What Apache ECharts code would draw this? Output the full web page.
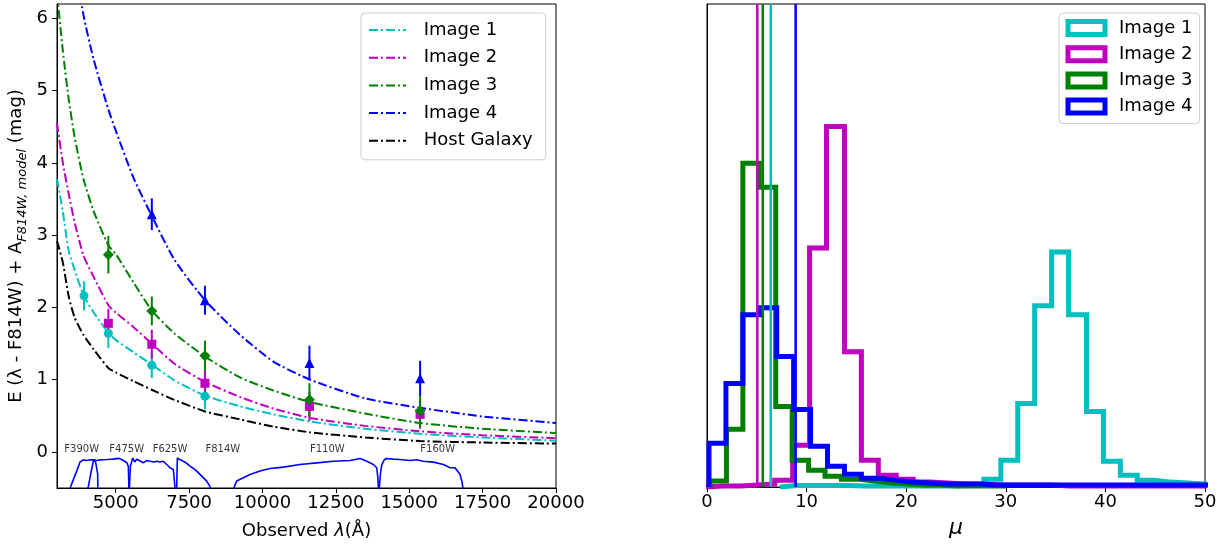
<!DOCTYPE html>
<html><head><meta charset="utf-8">
<script src="https://cdn.jsdelivr.net/npm/echarts@6/dist/echarts.min.js"></script>
<style>html,body{margin:0;padding:0;background:#fff}#c{width:1222px;height:545px}</style>
</head><body><div id="c"></div>
<script>
const FONT = 'DejaVu Sans';
const COLORS = ['#00bfbf', '#bf00bf', '#008000', '#0000ff', '#000000'];
const seriesNames = ['Image 1', 'Image 2', 'Image 3', 'Image 4', 'Host Galaxy'];

// ---------- left panel: model curves ----------
const modelLambda = [3000,3200,3400,3600,3900,4250,4750,5000,5600,6225,7000,8040,9235,10370,11620,13500,15370,17500,20000];
const modelImage1 = [3.78,3.32,2.78,2.52,2.17,1.93,1.65,1.55,1.38,1.21,0.99,0.78,0.63,0.52,0.42,0.32,0.25,0.20,0.155];
const modelImage2 = [4.55,4.00,3.57,3.18,2.72,2.42,2.03,1.93,1.73,1.50,1.22,0.97,0.76,0.60,0.47,0.36,0.285,0.23,0.19];
const modelImage3 = [6.35,5.55,4.88,4.36,3.78,3.33,2.86,2.74,2.35,1.96,1.64,1.32,1.03,0.85,0.69,0.53,0.40,0.32,0.26];
const modelImage4 = [null,null,null,6.80,6.05,5.43,4.74,4.45,3.80,3.27,2.66,2.10,1.62,1.25,1.00,0.74,0.61,0.49,0.40];
const modelHost   = [2.92,2.62,2.15,1.86,1.62,1.42,1.16,1.10,0.98,0.86,0.72,0.56,0.45,0.35,0.27,0.20,0.15,0.13,0.115];

// ---------- left panel: photometry ----------
const filterLambda = [3920, 4750, 6230, 8040, 11600, 15370];
const obsImage1 = [2.16, 1.64, 1.20, 0.77, null, null];
const errImage1 = [0.20, 0.20, 0.18, 0.18, null, null];
const obsImage2 = [null, 1.78, 1.49, 0.95, 0.63, 0.52];
const errImage2 = [null, 0.20, 0.20, 0.18, 0.20, 0.20];
const obsImage3 = [null, 2.73, 1.95, 1.33, 0.72, 0.57];
const errImage3 = [null, 0.26, 0.20, 0.21, 0.23, 0.23];
const obsImage4 = [null, null, 3.29, 2.10, 1.23, 1.02];
const errImage4 = [null, null, 0.22, 0.20, 0.24, 0.24];

// ---------- left panel: filter throughput curves (plotted offset) ----------
const thrF390W_l = [3350,3466,3580,3670,3783,3896,4000,4150,4300,4360,4385,4400];
const thrF390W_v = [-0.70,-0.48,-0.36,-0.27,-0.14,-0.11,-0.12,-0.11,-0.11,-0.12,-0.30,-0.70];
const thrF475W_l = [3950,4067,4150,4237,4300,4465,4700,4900,5114,5260,5380,5430,5450,5460];
const thrF475W_v = [-0.70,-0.48,-0.30,-0.13,-0.11,-0.11,-0.105,-0.10,-0.09,-0.12,-0.15,-0.20,-0.50,-0.70];
const thrF625W_l = [5455,5470,5500,5580,5650,5715,5800,5940,6050,6169,6300,6396,6500,6623,6737,6850,6964,7000,7020,7030];
const thrF625W_v = [-0.70,-0.48,-0.20,-0.085,-0.14,-0.10,-0.12,-0.15,-0.12,-0.13,-0.14,-0.13,-0.14,-0.13,-0.175,-0.22,-0.244,-0.27,-0.50,-0.70];
const thrF814W_l = [7060,7078,7100,7200,7305,7420,7531,7650,7760,7930,8100,8213,8400];
const thrF814W_v = [-0.70,-0.48,-0.085,-0.11,-0.13,-0.16,-0.197,-0.23,-0.266,-0.335,-0.404,-0.482,-0.70];
const thrF110W_l = [8950,9041,9122,9348,9576,9916,10256,10710,11280,11848,12415,12983,13324,13551,13778,13891,13930,13947,13960];
const thrF110W_v = [-0.70,-0.482,-0.404,-0.358,-0.312,-0.266,-0.23,-0.211,-0.175,-0.152,-0.129,-0.119,-0.092,-0.129,-0.175,-0.22,-0.35,-0.482,-0.70];
const thrF160W_l = [13970,13983,14020,14064,14150,14233,14450,14687,15027,15250,15481,15823,16164,16391,16561,16732,16800,16823,16850];
const thrF160W_v = [-0.70,-0.482,-0.30,-0.175,-0.11,-0.092,-0.10,-0.106,-0.119,-0.11,-0.129,-0.142,-0.175,-0.22,-0.22,-0.312,-0.42,-0.482,-0.70];
const filterNames = ['F390W','F475W','F625W','F814W','F110W','F160W'];
const filterLabelLambda = [3840, 5375, 6850, 8650, 12210, 15970];
const filterLabelY = 0.03;

// ---------- right panel: histograms of mu ----------
const edgesImage1 = [7.3,9.0,10.7,12.4,14.1,15.8,17.5,19.2,21.0,22.7,24.4,26.1,27.8,29.5,31.2,32.9,34.6,36.3,38.1,39.8,41.5,43.2,44.9,46.6,48.3,50.0];
const countsImage1 = [1.5,1.5,1.5,1.5,1,1,1,1,1,1,1.5,2,8,27,84,182,236,173,76,26,12,7,5,4,3];
const edgesImage2 = [-0.1,1.6,3.4,5.1,6.8,8.6,10.3,12.0,13.8,15.5,17.2,19.0,20.7,22.4,24.2,25.9,27.6,29.4,31.1,32.8,34.6,36.3,38.0,39.8,41.5,43.2,45.0,46.7,48.4,50.2];
const countsImage2 = [1,1,2,3,7,42,240,362,136,27,12,8,5,4,3,3,2,2,2,2,1,1,1,1,1,1,1,1,1];
const edgesImage3 = [0.3,1.95,3.6,5.25,6.9,8.55,10.2,11.85,13.5,15.15,16.8,18.45,20.1,21.75,23.4,25.05,26.7,28.35,30.0];
const countsImage3 = [6,58,325,301,81,27,17,11,8,6,4,3,2,2,1,1,1,1];
const edgesImage4 = [0.2,1.9,3.6,5.3,7.0,8.7,10.4,12.1,13.8,15.5,17.2,18.9,20.6,22.3,24.0,25.7,27.4,29.1,30.8,32.5,34.2,35.9,37.6,39.3,41.0,42.7,44.4,46.1,47.8,49.5,51.2];
const countsImage4 = [44,104,173,180,131,78,41,21,13,9,7,5,4,3,3,3,2,2,2,2,2,2,2,2,2,2,2,2,2,2];
const medianMu = [6.4, 5.05, 5.6, 8.9];
const histMax = 485;

// ---------- helpers ----------
const DASHDOT = [9, 3, 2, 3];
function pairs(xs, ys) { return xs.map((x, i) => [x, ys[i]]); }
function stepOutline(edges, counts) {
  const pts = [[edges[0], 0]];
  for (let i = 0; i < counts.length; i++) { pts.push([edges[i], counts[i]]); pts.push([edges[i + 1], counts[i]]); }
  pts.push([edges[counts.length], 0]);
  return pts;
}
function obsData(vals) { return filterLambda.map((l, i) => vals[i] == null ? null : [l, vals[i]]).filter(d => d); }
function errData(vals, errs) { return filterLambda.map((l, i) => vals[i] == null ? null : [l, vals[i] - errs[i], vals[i] + errs[i]]).filter(d => d); }

const models = [modelImage1, modelImage2, modelImage3, modelImage4, modelHost];
const obs = [obsImage1, obsImage2, obsImage3, obsImage4];
const errs = [errImage1, errImage2, errImage3, errImage4];
const markerShapes = ['circle', 'rect', 'diamond', 'triangle'];
const markerSizes = [9, 9, 11, 10];
const thr = [[thrF390W_l, thrF390W_v], [thrF475W_l, thrF475W_v], [thrF625W_l, thrF625W_v], [thrF814W_l, thrF814W_v], [thrF110W_l, thrF110W_v], [thrF160W_l, thrF160W_v]];
const hists = [[edgesImage1, countsImage1], [edgesImage2, countsImage2], [edgesImage3, countsImage3], [edgesImage4, countsImage4]];

const series = [];
models.forEach((m, i) => {
  series.push({
    name: seriesNames[i], type: 'line', xAxisIndex: 0, yAxisIndex: 0,
    data: pairs(modelLambda, m), showSymbol: false, symbol: 'none',
    smooth: 0.2, connectNulls: false, clip: true,
    lineStyle: { color: COLORS[i], width: 2, type: DASHDOT }, itemStyle: { color: COLORS[i] },
    z: 3
  });
});
thr.forEach(t => {
  series.push({
    type: 'line', xAxisIndex: 0, yAxisIndex: 0, data: pairs(t[0], t[1]), symbol: 'none', clip: true,
    lineStyle: { color: '#0000ff', width: 1.6 }, z: 2, silent: true
  });
});
obs.forEach((o, i) => {
  series.push({
    type: 'custom', xAxisIndex: 0, yAxisIndex: 0, data: errData(o, errs[i]), z: 4, silent: true,
    renderItem: (params, api) => {
      const p1 = api.coord([api.value(0), api.value(1)]);
      const p2 = api.coord([api.value(0), api.value(2)]);
      return { type: 'line', shape: { x1: p1[0], y1: p1[1], x2: p2[0], y2: p2[1] }, style: { stroke: COLORS[i], lineWidth: 2 } };
    }
  });
  series.push({
    type: 'scatter', xAxisIndex: 0, yAxisIndex: 0, data: obsData(o), symbol: markerShapes[i],
    symbolSize: markerSizes[i], itemStyle: { color: COLORS[i], opacity: 1 }, z: 5, silent: true
  });
});
series.push({
  type: 'scatter', xAxisIndex: 0, yAxisIndex: 0, symbolSize: 1, itemStyle: { color: 'rgba(0,0,0,0)' }, silent: true,
  data: filterNames.map((n, i) => ({ name: n, value: [filterLabelLambda[i], filterLabelY] })),
  label: { show: true, position: 'inside', formatter: '{b}', fontSize: 10, color: '#000', fontFamily: FONT }, z: 6
});
hists.forEach((h, i) => {
  series.push({
    name: seriesNames[i], type: 'line', xAxisIndex: 1, yAxisIndex: 1, data: stepOutline(h[0], h[1]),
    symbol: 'none', clip: true,
    lineStyle: { color: COLORS[i], width: 5, join: 'miter', cap: 'butt' }, itemStyle: { color: COLORS[i] }, z: 3 + i * 0.01
  });
});
medianMu.forEach((m, i) => {
  series.push({
    type: 'line', xAxisIndex: 1, yAxisIndex: 1, data: [[m, 0], [m, histMax]], symbol: 'none', silent: true,
    lineStyle: { color: COLORS[i], width: 2.5 }, z: 4
  });
});

const axisCommon = {
  axisLine: { show: true, onZero: false, lineStyle: { color: '#000', width: 1 } },
  axisTick: { show: true, inside: false, length: 5, lineStyle: { color: '#000' } },
  splitLine: { show: false },
  axisLabel: { color: '#000', fontSize: 18, fontFamily: FONT, formatter: v => String(v) }
};
const xTicksLeft = [5000, 7500, 10000, 12500, 15000, 17500, 20000];
const yTicksLeft = [0, 1, 2, 3, 4, 5, 6];

const option = {
  animation: false,
  backgroundColor: '#fff',
  textStyle: { fontFamily: FONT },
  grid: [
    { left: 57, top: 4, width: 499, height: 485, show: true, borderColor: '#000', borderWidth: 1, containLabel: false },
    { left: 707, top: 4, width: 498, height: 485, show: true, borderColor: '#000', borderWidth: 1, containLabel: false }
  ],
  xAxis: [
    Object.assign({}, axisCommon, {
      type: 'value', gridIndex: 0, min: 3000, max: 20000,
      axisTick: Object.assign({}, axisCommon.axisTick, { customValues: xTicksLeft }),
      axisLabel: Object.assign({}, axisCommon.axisLabel, { margin: 6, customValues: xTicksLeft }),
      name: '{a|Observed }{i|λ}{a|(Å)}', nameLocation: 'middle', nameGap: 32,
      nameTextStyle: { rich: { a: { fontSize: 18, fontFamily: FONT, color: '#000', lineHeight: 22 }, i: { fontSize: 18, fontFamily: FONT, fontStyle: 'italic', color: '#000', lineHeight: 22 } } }
    }),
    Object.assign({}, axisCommon, {
      type: 'value', gridIndex: 1, min: 0, max: 50, interval: 10,
      axisLabel: Object.assign({}, axisCommon.axisLabel, { margin: 6 }),
      name: 'μ', nameLocation: 'middle', nameGap: 23,
      nameTextStyle: { fontSize: 22, fontStyle: 'italic', fontFamily: FONT, color: '#000', lineHeight: 24 }
    })
  ],
  yAxis: [
    Object.assign({}, axisCommon, {
      type: 'value', gridIndex: 0, min: -0.5, max: 6.2,
      axisTick: Object.assign({}, axisCommon.axisTick, { customValues: yTicksLeft }),
      axisLabel: Object.assign({}, axisCommon.axisLabel, { margin: 9, customValues: yTicksLeft }),
      name: '{a|E (λ - F814W) + A}{s|F814W, model}{a| (mag)}', nameLocation: 'middle', nameGap: 28,
      nameTextStyle: { rich: {
        a: { fontSize: 18, fontFamily: FONT, color: '#000', lineHeight: 26 },
        s: { fontSize: 13, fontFamily: FONT, fontStyle: 'italic', color: '#000', lineHeight: 12, verticalAlign: 'bottom' }
      } }
    }),
    Object.assign({}, axisCommon, {
      type: 'value', gridIndex: 1, min: 0, max: histMax,
      axisTick: { show: false }, axisLabel: { show: false }
    })
  ],
  legend: [
    {
      orient: 'vertical', left: 361, top: 13, padding: [7, 13, 9, 7], itemGap: 7.7,
      itemWidth: 37, itemHeight: 14, selectedMode: false,
      borderColor: '#cccccc', borderWidth: 1, borderRadius: 4, backgroundColor: 'rgba(255,255,255,0.85)',
      data: seriesNames,
      itemStyle: { color: 'rgba(0,0,0,0)', borderWidth: 0 },
      lineStyle: { width: 2, type: DASHDOT },
      textStyle: { fontSize: 18, fontFamily: FONT, color: '#000', lineHeight: 20, padding: [0, 0, 0, 12.7] }
    },
    {
      orient: 'vertical', left: 1059, top: 13, padding: [5, 7, 7, 6.5], itemGap: 6.2,
      itemWidth: 37, itemHeight: 13, selectedMode: false,
      borderColor: '#cccccc', borderWidth: 1, borderRadius: 4, backgroundColor: 'rgba(255,255,255,0.85)',
      data: seriesNames.slice(0, 4).map((n, i) => ({ name: n, icon: 'rect', itemStyle: { color: '#ffffff', borderColor: COLORS[i], borderWidth: 5 } })),
      textStyle: { fontSize: 18, fontFamily: FONT, color: '#000', lineHeight: 20, padding: [0, 0, 0, 9] }
    }
  ],
  series: series
};

const chart = echarts.init(document.getElementById('c'), null, { renderer: 'canvas', width: 1222, height: 545 });
chart.setOption(option);
</script>
</body></html>
